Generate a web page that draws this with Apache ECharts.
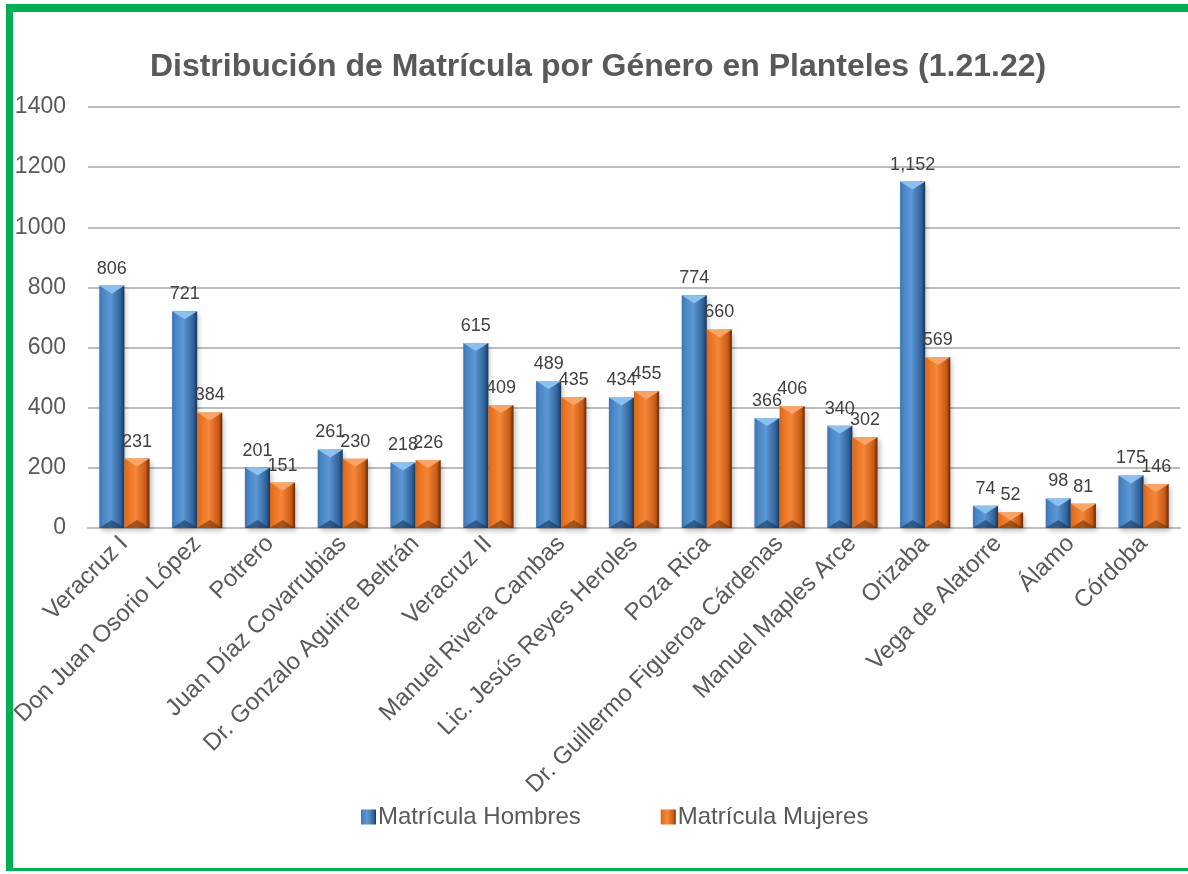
<!DOCTYPE html>
<html>
<head>
<meta charset="utf-8">
<script src="https://cdn.jsdelivr.net/npm/echarts@6/dist/echarts.min.js"></script>
<style>
  html, body { margin: 0; padding: 0; background: #fff; }
  #frame {
    position: absolute; left: 6px; top: 4px; width: 1200px; height: 867px;
    border-top: 8px solid #00b050; border-left: 7px solid #00b050; border-bottom: 3px solid #00b050;
    box-sizing: border-box;
  }
  #chart { position: absolute; left: 0; top: 0; width: 1188px; height: 874px; }
</style>
</head>
<body>
<div id="frame"></div>
<div id="chart"></div>
<script>
const categories = ['Veracruz I', 'Don Juan Osorio López', 'Potrero', 'Juan Díaz Covarrubias',
  'Dr. Gonzalo Aguirre Beltrán', 'Veracruz II', 'Manuel Rivera Cambas', 'Lic. Jesús Reyes Heroles',
  'Poza Rica', 'Dr. Guillermo Figueroa Cárdenas', 'Manuel Maples Arce', 'Orizaba',
  'Vega de Alatorre', 'Álamo', 'Córdoba']
const hombres = [806, 721, 201, 261, 218, 615, 489, 434, 774, 366, 340, 1152, 74, 98, 175]
const mujeres = [231, 384, 151, 230, 226, 409, 435, 455, 660, 406, 302, 569, 52, 81, 146]
const yTicks = { min: 0, max: 1400, interval: 200 }

const CAT_GAP = 0.31

const bevel = (edgeL, mid, light, dark, edgeR) => new echarts.graphic.LinearGradient(0, 0, 1, 0, [
  { offset: 0, color: edgeL },
  { offset: 0.15, color: mid },
  { offset: 0.45, color: light },
  { offset: 0.85, color: dark },
  { offset: 1, color: edgeR }
])

const blueFill = bevel('#3d74b0', '#4a86c5', '#5b98d4', '#30629a', '#1a3555')
const orangeFill = bevel('#d9661a', '#e8741f', '#f5863a', '#c85a14', '#62290a')

const fmt = v => v.toLocaleString('en-US')

// bevel caps on top / bottom of each bar, placed with the axis scales
const capSeries = (name, values, side, topColor, botColor) => ({
  name, type: 'custom', silent: true, z: 3,
  data: values.map((v, i) => [i, v]),
  renderItem: (params, api) => {
    const top = api.coord([api.value(0), api.value(1)])
    const base = api.coord([api.value(0), 0])
    const bw = api.size([1, 0])[0] * (1 - CAT_GAP) / 2
    const x0 = side < 0 ? top[0] - bw : top[0]
    const x1 = x0 + bw
    const xc = (x0 + x1) / 2
    const h = base[1] - top[1]
    const d = Math.min(bw * 0.32, h / 2)
    return {
      type: 'group',
      children: [
        { type: 'polygon', shape: { points: [[x0, top[1]], [x1, top[1]], [xc, top[1] + d]] },
          style: { fill: topColor } },
        { type: 'polygon', shape: { points: [[x0, base[1]], [x1, base[1]], [xc, base[1] - d]] },
          style: { fill: botColor } }
      ]
    }
  }
})

const chart = echarts.init(document.getElementById('chart'))
chart.setOption({
  backgroundColor: 'transparent',
  textStyle: { fontFamily: 'Liberation Sans, Arial, sans-serif' },
  title: {
    text: 'Distribución de Matrícula por Género en Planteles (1.21.22)',
    left: 593, top: 46, textAlign: 'center',
    textStyle: { fontSize: 32, fontWeight: 'bold', color: '#595959' }
  },
  legend: {
    bottom: 40, left: 356, itemGap: 80, itemWidth: 15, itemHeight: 15,
    textStyle: { fontSize: 24, color: '#595959', padding: [0, 0, 0, -3] },
    data: [
      { name: 'Matrícula Hombres', icon: 'rect' },
      { name: 'Matrícula Mujeres', icon: 'rect' }
    ]
  },
  grid: { left: 88, right: 8, top: 107, bottom: 346, containLabel: false },
  xAxis: {
    type: 'category', data: categories,
    axisTick: { show: false },
    axisLine: { lineStyle: { color: '#bfbfbf', width: 2 } },
    axisLabel: { rotate: 45, fontSize: 24, color: '#595959', margin: 12, interval: 0 }
  },
  yAxis: {
    type: 'value', ...yTicks,
    axisLine: { show: false }, axisTick: { show: false },
    axisLabel: { fontSize: 23, color: '#595959', margin: 22, formatter: v => String(v) },
    splitLine: { lineStyle: { color: '#a6a6a6', width: 1.5 } }
  },
  series: [
    {
      name: 'Matrícula Hombres', type: 'bar', data: hombres,
      barGap: '0%', barCategoryGap: (CAT_GAP * 100) + '%',
      itemStyle: { color: blueFill, shadowColor: 'rgba(0,0,0,0.25)', shadowBlur: 5, shadowOffsetX: 2, shadowOffsetY: 3 },
      label: { show: true, position: 'top', fontSize: 18, color: '#404040', distance: 8, formatter: p => fmt(p.value) }
    },
    {
      name: 'Matrícula Mujeres', type: 'bar', data: mujeres,
      itemStyle: { color: orangeFill, shadowColor: 'rgba(0,0,0,0.25)', shadowBlur: 5, shadowOffsetX: 2, shadowOffsetY: 3 },
      label: { show: true, position: 'top', fontSize: 18, color: '#404040', distance: 8, formatter: p => fmt(p.value) }
    },
    capSeries('capH', hombres, -1, '#8cc0ee', 'rgba(20,45,80,0.55)'),
    capSeries('capM', mujeres, 1, '#f9a56a', 'rgba(90,35,5,0.5)')
  ]
})
</script>
</body>
</html>
